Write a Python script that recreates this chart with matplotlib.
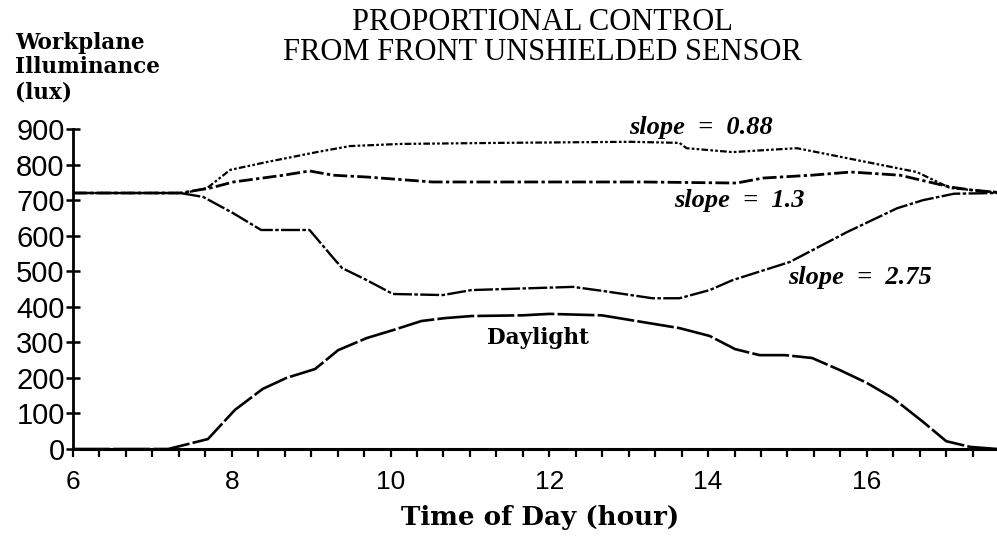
import matplotlib
matplotlib.use("Agg")
import matplotlib.pyplot as plt
import numpy as np

# Daylight contribution at the workplane (lux)
day_hours = [6, 7.2, 7.7, 8.04, 8.39, 8.69, 9.05, 9.34, 9.70, 10.04, 10.39, 10.68,
             11.02, 11.67, 12.0, 12.66, 13.64, 14.02, 14.34, 14.65, 14.97, 15.31,
             15.66, 16.0, 16.33, 16.71, 17.0, 17.3, 17.64]
daylight = [0, 0, 28, 110, 169, 200, 225, 278, 312, 335, 360, 368,
            374, 376, 380, 376, 340, 318, 281, 264, 264, 256,
            222, 186, 143, 76, 22, 6, 0]

# Total workplane illuminance for each control slope
s088_hours = [6, 7.4, 7.69, 7.98, 8.44, 9.07, 9.49, 10.12, 11.38, 13.02, 13.64, 13.73,
              14.31, 14.74, 15.12, 15.37, 16.0, 16.63, 17.05, 17.64]
s088 = [720, 720, 734, 785, 807, 835, 852, 858, 861, 864, 861, 846,
        835, 841, 846, 835, 807, 779, 734, 722]

s13_hours = [6, 7.35, 7.73, 8.02, 8.65, 8.98, 9.28, 9.70, 10.53, 13.19, 14.36, 14.69,
             15.3, 15.8, 16.42, 17.05, 17.33, 17.64]
s13 = [720, 720, 734, 751, 770, 782, 770, 765, 751, 751, 748, 762,
       770, 779, 770, 737, 728, 722]

s275_hours = [6, 7.35, 7.64, 8.02, 8.37, 8.98, 9.28, 9.39, 9.70, 10.03, 10.66, 11.02,
              12.30, 12.66, 13.30, 13.64, 14.02, 14.31, 15.03, 15.75, 16.38, 16.71,
              17.1, 17.64]
s275 = [720, 720, 709, 663, 616, 616, 537, 509, 475, 436, 433, 447,
        456, 445, 424, 424, 447, 475, 526, 610, 677, 700,
        718, 720]

y_ticks = [0, 100, 200, 300, 400, 500, 600, 700, 800, 900]
x_ticks = [6, 8, 10, 12, 14, 16]

fig = plt.figure(figsize=(9.97, 5.4), dpi=100)
ax = fig.add_axes([0.0732, 0.1685, 0.9268, 0.5926])

ax.plot(s088_hours, s088, color="black", lw=1.6, dashes=(1.2, 1, 3, 1, 1.2, 1))
ax.plot(s13_hours, s13, color="black", lw=2.0, dashes=(5, 1.2, 1.2, 1.2))
ax.plot(s275_hours, s275, color="black", lw=1.7, dashes=(8, 1, 1.5, 1))
ax.plot(day_hours, daylight, color="black", lw=1.9, dashes=(14, 1.2))

ax.set_xlim(6, 17.64)
ax.set_ylim(0, 900)
ax.spines["top"].set_visible(False)
ax.spines["right"].set_visible(False)
ax.spines["left"].set_linewidth(2)
ax.spines["bottom"].set_linewidth(2.2)

ax.set_yticks(y_ticks)
ax.set_yticklabels([str(v) for v in y_ticks], fontsize=21, family="Liberation Sans")
ax.tick_params(axis="y", direction="inout", length=10, width=1.8, pad=1)

ax.set_xticks(x_ticks)
ax.set_xticklabels([str(v) for v in x_ticks], fontsize=19, family="Liberation Sans")
ax.set_xticks(np.arange(6, 17.4, 1 / 3), minor=True)
ax.tick_params(axis="x", which="both", direction="out", length=6, width=1.6, pad=9)

note = dict(fontsize=19, family="Liberation Serif", weight="bold", style="italic",
            ha="center", va="center")
ax.text(13.91, 903, "slope  =  0.88", **note)
ax.text(14.40, 700, "slope  =  1.3", **note)
ax.text(15.91, 481, "slope  =  2.75", **note)
ax.text(11.86, 312, "Daylight", fontsize=15.5, family="DejaVu Serif", weight="bold",
        ha="center", va="center")

fig.text(542 / 997, 1 - 22 / 540, "PROPORTIONAL CONTROL", fontsize=22,
         family="Liberation Serif", ha="center", va="center")
fig.text(542 / 997, 1 - 52 / 540, "FROM FRONT UNSHIELDED SENSOR", fontsize=22,
         family="Liberation Serif", ha="center", va="center")

for label, ypix in [("Workplane", 43), ("Illuminance", 67), ("(lux)", 92)]:
    fig.text(15 / 997, 1 - ypix / 540, label, fontsize=15.5, family="DejaVu Serif",
             weight="bold", ha="left", va="center")

fig.text(540 / 997, 1 - 517 / 540, "Time of Day (hour)", fontsize=18.8,
         family="DejaVu Serif", weight="bold", ha="center", va="center")

fig.savefig("out.png", dpi=100)
